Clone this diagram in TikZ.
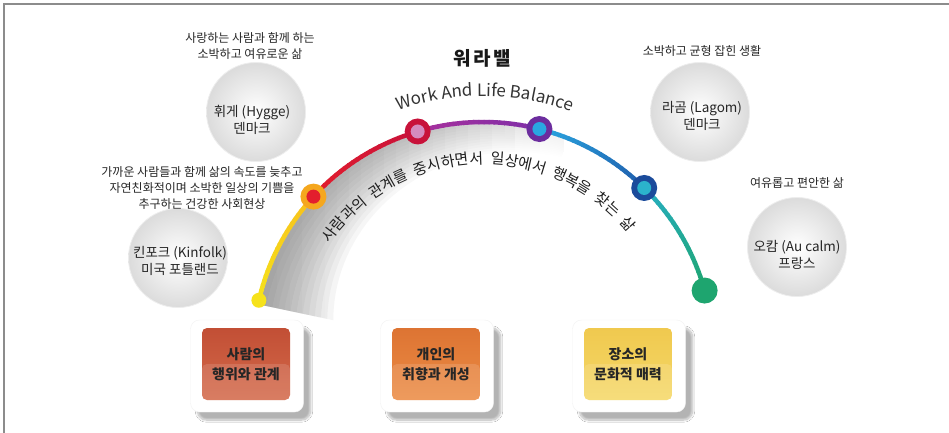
\documentclass[tikz,border=0pt]{standalone}
\usepackage{fontspec}
\setmainfont{Noto Sans CJK KR}
\usetikzlibrary{calc,decorations.text,shadows,shadows.blur,fadings}
\definecolor{cYel}{HTML}{F6E21B}
\definecolor{cYel2}{HTML}{F7C01C}
\definecolor{cOra}{HTML}{F5A71E}
\definecolor{cRed}{HTML}{E31E2D}
\definecolor{cCrim}{HTML}{C8123A}
\definecolor{cPink}{HTML}{D58BBE}
\definecolor{cMag}{HTML}{A8309C}
\definecolor{cPur}{HTML}{6C2D9E}
\definecolor{cPur2}{HTML}{7E2FA8}
\definecolor{cLBlue}{HTML}{2AA7E1}
\definecolor{cBlue}{HTML}{1F5CAB}
\definecolor{cDBlue}{HTML}{1B4B9B}
\definecolor{cTeal}{HTML}{27AEC2}
\definecolor{cTealIn}{HTML}{2BB3CC}
\definecolor{cGreen}{HTML}{1EA56F}
\definecolor{bOneA}{HTML}{C24F35}
\definecolor{bOneB}{HTML}{D46A4B}
\definecolor{bTwoA}{HTML}{DD7433}
\definecolor{bTwoB}{HTML}{EC8C45}
\definecolor{bThrA}{HTML}{F0C94F}
\definecolor{bThrB}{HTML}{F5D868}
\newcommand\gradarc[4]{%
  \foreach \k in {1,...,24}{%
    \pgfmathsetmacro\aA{#1+(#2-#1)*(\k-1)/24}%
    \pgfmathsetmacro\aB{#1+(#2-#1)*\k/24+(#2-#1)/120}%
    \pgfmathtruncatemacro\pc{100*(\k-0.5)/24}%
    \draw[line width=4.5pt, color=#4!\pc!#3] ($(C)+(\aA:230)$) arc[start angle=\aA, end angle=\aB, radius=230];
  }%
}
\newcommand\wgap{{\hspace{7pt}}}
\tikzset{
  note/.style={align=center, font=\fontsize{12}{16}\selectfont, text=black!85, inner sep=0},
  bubble/.style={circle, minimum size=99pt, inner sep=0, draw=black!7, line width=0.8pt, inner color=white, outer color=black!14},
  btext/.style={align=center, font=\fontsize{13.5}{17}\selectfont, text=black!85, inner sep=0},
  glass/.style={rounded corners=9pt, minimum width=113pt, minimum height=92pt, fill=white, draw=black!5,
    blur shadow={shadow xshift=7pt, shadow yshift=-8pt, shadow opacity=30, shadow blur steps=12}},
  card/.style={rounded corners=5pt, minimum width=88pt, minimum height=72pt, inner sep=0, align=center,
    font=\fontsize{14}{20}\selectfont\bfseries, text=black!85,
    path picture={\fill[white, opacity=0.13] (path picture bounding box.west) rectangle (path picture bounding box.south east);}},
  ring/.style={circle, inner sep=0, minimum size=26pt},
  core/.style={circle, inner sep=0, minimum size=14pt},
}
\begin{document}
\begin{tikzpicture}[x=1pt,y=1pt]
\useasboundingbox (0,0) rectangle (949,-433);
\fill[white] (0,0) rectangle (949,-433);
\draw[black!45, line width=1.5pt] (4,-433) -- (4,-4) -- (949,-4);
\coordinate (C) at (483,-352);

% soft gray shading under the arc
\foreach \k in {1,...,12}{
  \fill[black!48, fill opacity=0.1, path fading=east]
    plot[domain=168:68, samples=40] ({483+228*cos(\x)}, {-352+228*sin(\x)})
    -- plot[domain=68:168, samples=40] ({483+(228-\k*(18+57*(\x-68)/100)/12)*cos(\x)}, {-352+(228-\k*(18+57*(\x-68)/100)/12)*sin(\x)})
    -- cycle;
}

% coloured arc
\gradarc{167}{137.5}{cYel}{cYel2}
\gradarc{137.5}{106.5}{cRed}{cCrim}
\gradarc{106.5}{75.8}{cMag}{cPur2}
\gradarc{75.8}{45.5}{cLBlue}{cBlue}
\gradarc{45.5}{15.5}{cTeal}{cGreen}

% end dots and rings
\node[core, fill=cYel, minimum size=15pt] (endA) at ($(C)+(167:230)$) {};
\node[circle, inner sep=0, fill=cGreen, minimum size=26pt] (endB) at ($(C)+(15.5:230)$) {};
\node[ring, fill=cOra] (rA) at ($(C)+(137.5:230)$) {};
\node[core, fill=cRed] (rAi) at (rA) {};
\node[ring, fill=cCrim] (rB) at ($(C)+(106.5:230)$) {};
\node[core, fill=cPink] (rBi) at (rB) {};
\node[ring, fill=cPur] (rC) at ($(C)+(75.8:230)$) {};
\node[core, fill=cLBlue] (rCi) at (rC) {};
\node[ring, fill=cDBlue] (rD) at ($(C)+(45.5:230)$) {};
\node[core, fill=cTealIn] (rDi) at (rD) {};

% curved texts
\path[decorate, decoration={text along path, text align=center, text color=black!80,
  text={|\fontsize{17}{17}\selectfont|Work And Life Balance}}]
  ($(C)+(116:256)$) arc[start angle=116, end angle=63, radius=256];
\path[decorate, decoration={text along path, text align=center, text color=black!88,
  text={|\fontsize{15}{15}\selectfont|사람과의\wgap 관계를\wgap 중시하면서\wgap 일상에서\wgap 행복을\wgap 찾는\wgap 삶}}]
  ($(C)+(150:188)$) arc[start angle=150, end angle=34, radius=188];

% title
\node[font=\fontsize{19}{22}\selectfont\bfseries, text=black!90, inner sep=0] (title) at (482,-58) {워\hspace{2.5pt}라\hspace{2.5pt}밸};

% bubbles
\node[bubble] (hygge) at (256,-112) {};
\node[btext] (hyggeT) at (252,-120) {휘게 (Hygge)\\덴마크};
\node[note] (hyggeN) at (250,-46) {사랑하는 사람과 함께 하는\\소박하고 여유로운 삶};

\node[bubble] (kin) at (178,-258) {};
\node[btext] (kinT) at (180,-261) {킨포크 (Kinfolk)\\미국 포틀랜드};
\node[note] (kinN) at (202,-188) {가까운 사람들과 함께 삶의 속도를 늦추고\\자연친화적이며 소박한 일상의 기쁨을\\추구하는 건강한 사회현상};

\node[bubble] (lagom) at (700,-112) {};
\node[btext] (lagomT) at (702,-116) {라곰 (Lagom)\\덴마크};
\node[note] (lagomN) at (702,-51) {소박하고 균형 잡힌 생활};

\node[bubble] (aucalm) at (797,-247) {};
\node[btext] (aucalmT) at (797,-255) {오캄 (Au calm)\\프랑스};
\node[note] (aucalmN) at (797,-183) {여유롭고 편안한 삶};

% boxes
\node[glass] (g1) at (247,-366) {};
\node[card, top color=bOneA, bottom color=bOneB] (b1) at (246,-364) {사람의\\행위와 관계};
\node[glass] (g2) at (437,-366) {};
\node[card, top color=bTwoA, bottom color=bTwoB] (b2) at (436,-364) {개인의\\취향과 개성};
\node[glass] (g3) at (629,-366) {};
\node[card, top color=bThrA, bottom color=bThrB] (b3) at (628,-364) {장소의\\문화적 매력};
\end{tikzpicture}
\end{document}
